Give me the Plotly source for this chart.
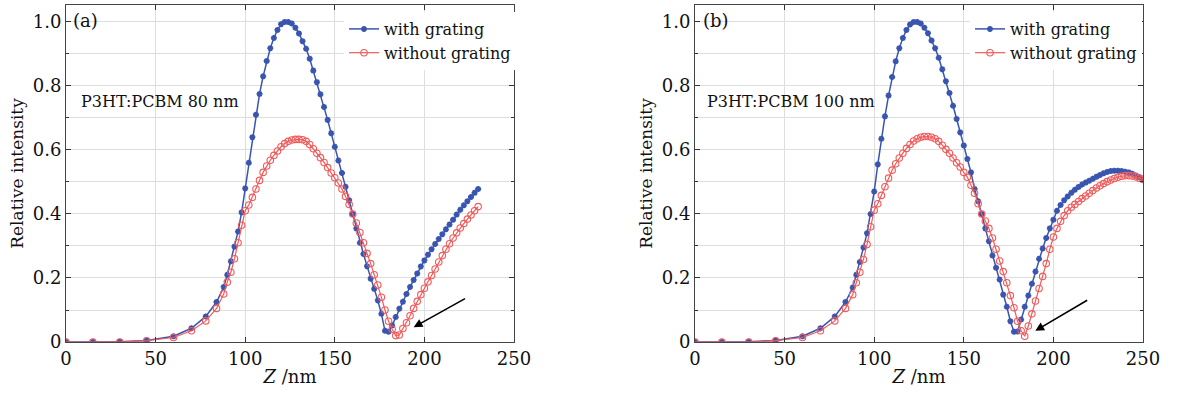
import plotly.graph_objects as go

# ---------------- data ----------------
Z_A = [0, 15, 30, 45, 60, 70, 78, 84, 88, 90,
       92, 94, 96, 98, 100, 102, 104, 106, 108, 110,
       112, 114, 116, 118, 120, 122, 124, 126, 128, 130,
       132, 134, 136, 138, 140, 142, 144, 146, 148, 150,
       152, 154, 156, 158, 160, 162, 164, 166, 168, 170,
       172, 174, 176, 178, 180, 182, 184, 186, 188, 190,
       192, 194, 196, 198, 200, 202, 204, 206, 208, 210,
       212, 214, 216, 218, 220, 222, 224, 226, 228, 230]

with_A = [0, 0, 0.001, 0.005, 0.018, 0.043, 0.08, 0.125, 0.172, 0.21,
          0.252, 0.298, 0.345, 0.405, 0.48, 0.56, 0.64, 0.71, 0.775, 0.83,
          0.878, 0.918, 0.95, 0.975, 0.993, 1.0, 1.0, 0.995, 0.982, 0.964,
          0.94, 0.916, 0.885, 0.848, 0.812, 0.774, 0.734, 0.694, 0.652, 0.61,
          0.567, 0.528, 0.485, 0.443, 0.4, 0.355, 0.31, 0.275, 0.237, 0.198,
          0.166, 0.13, 0.088, 0.035, 0.032, 0.052, 0.078, 0.104, 0.126, 0.15,
          0.172, 0.194, 0.214, 0.236, 0.255, 0.273, 0.29, 0.306, 0.322, 0.337,
          0.352, 0.367, 0.382, 0.398, 0.413, 0.427, 0.44, 0.453, 0.466, 0.478]

without_A = [0, 0, 0, 0.004, 0.014, 0.035, 0.066, 0.105, 0.15, 0.187,
             0.218, 0.26, 0.31, 0.365, 0.41, 0.428, 0.452, 0.478, 0.505, 0.53,
             0.55, 0.568, 0.583, 0.597, 0.61, 0.62, 0.627, 0.631, 0.633, 0.633,
             0.632, 0.627, 0.617, 0.604, 0.59, 0.576, 0.561, 0.545, 0.528, 0.513,
             0.497, 0.478, 0.455, 0.43, 0.4, 0.372, 0.342, 0.31, 0.277, 0.245,
             0.21, 0.178, 0.14, 0.1, 0.065, 0.04, 0.02, 0.022, 0.042, 0.06,
             0.082, 0.105, 0.127, 0.148, 0.168, 0.188, 0.208, 0.228, 0.25, 0.27,
             0.29, 0.307, 0.325, 0.341, 0.356, 0.37, 0.384, 0.397, 0.41, 0.423]

Z_B = [0, 15, 30, 45, 60, 70, 78, 84, 88, 90,
       92, 94, 96, 98, 100, 102, 104, 106, 108, 110,
       112, 114, 116, 118, 120, 122, 124, 126, 128, 130,
       132, 134, 136, 138, 140, 142, 144, 146, 148, 150,
       152, 154, 156, 158, 160, 162, 164, 166, 168, 170,
       172, 174, 176, 178, 180, 182, 184, 186, 188, 190,
       192, 194, 196, 198, 200, 202, 204, 206, 208, 210,
       212, 214, 216, 218, 220, 222, 224, 226, 228, 230,
       232, 234, 236, 238, 240, 242, 244, 246, 248, 250]

with_B = [0, 0, 0.001, 0.005, 0.018, 0.043, 0.08, 0.125, 0.17, 0.21,
          0.25, 0.295, 0.34, 0.4, 0.47, 0.555, 0.635, 0.705, 0.77, 0.828,
          0.877, 0.918, 0.95, 0.975, 0.992, 1.0, 1.0, 0.995, 0.982, 0.965,
          0.942, 0.918, 0.888, 0.852, 0.815, 0.778, 0.738, 0.697, 0.655, 0.614,
          0.572, 0.53, 0.478, 0.44, 0.4, 0.355, 0.315, 0.27, 0.232, 0.195,
          0.148, 0.11, 0.065, 0.032, 0.033, 0.07, 0.11, 0.145, 0.182, 0.22,
          0.26, 0.292, 0.325, 0.355, 0.382, 0.41, 0.428, 0.443, 0.455, 0.466,
          0.476, 0.484, 0.492, 0.498, 0.504, 0.51, 0.516, 0.522, 0.527, 0.531,
          0.534, 0.535, 0.535, 0.534, 0.532, 0.53, 0.526, 0.52, 0.515, 0.51]

without_B = [0, 0, 0, 0.004, 0.014, 0.035, 0.066, 0.105, 0.148, 0.185,
             0.218, 0.258, 0.305, 0.36, 0.412, 0.432, 0.458, 0.485, 0.512, 0.537,
             0.557, 0.575, 0.59, 0.605, 0.617, 0.628, 0.635, 0.64, 0.642, 0.642,
             0.64, 0.635, 0.627, 0.615, 0.602, 0.59, 0.575, 0.56, 0.547, 0.53,
             0.515, 0.49, 0.465, 0.432, 0.4, 0.378, 0.355, 0.325, 0.29, 0.253,
             0.22, 0.185, 0.145, 0.107, 0.065, 0.035, 0.018, 0.05, 0.088, 0.128,
             0.167, 0.205, 0.245, 0.29, 0.328, 0.355, 0.377, 0.395, 0.41, 0.421,
             0.43, 0.439, 0.448, 0.456, 0.465, 0.473, 0.481, 0.488, 0.495, 0.501,
             0.506, 0.511, 0.515, 0.518, 0.52, 0.52, 0.519, 0.516, 0.512, 0.508]

y_tickvals = [0, 0.2, 0.4, 0.6, 0.8, 1.0]
y_ticktext = ["0", "0.2", "0.4", "0.6", "0.8", "1.0"]
x_tickvals = [0, 50, 100, 150, 200, 250]
series_names = ["with grating", "without grating"]
panel_labels = ["(a)", "(b)"]
sample_labels = ["P3HT:PCBM 80 nm", "P3HT:PCBM 100 nm"]
# arrow (tail Z, tail I, head Z, head I) for each panel
arrow_A = [223.5, 0.138, 194.0, 0.046]
arrow_B = [219.7, 0.133, 189.9, 0.035]

# ---------------- style ----------------
BLUE = "#3a55b0"
RED = "#f05a5a"
FONT = "DejaVu Serif"

fig = go.Figure()

def add_pair(z, w, wo, xa, ya, legend):
    fig.add_trace(go.Scatter(
        x=z, y=w, mode="lines+markers", name=series_names[0],
        xaxis=xa, yaxis=ya, legend=legend,
        line=dict(color=BLUE, width=1.5),
        marker=dict(symbol="asterisk-open", size=5, color=BLUE,
                    line=dict(color=BLUE, width=1.8)),
    ))
    fig.add_trace(go.Scatter(
        x=z, y=wo, mode="lines+markers", name=series_names[1],
        xaxis=xa, yaxis=ya, legend=legend,
        line=dict(color=RED, width=1.2),
        marker=dict(symbol="circle-open", size=6.5, color=RED,
                    line=dict(color=RED, width=1.1)),
    ))

add_pair(Z_A, with_A, without_A, "x", "y", "legend")
add_pair(Z_B, with_B, without_B, "x2", "y2", "legend2")

W, H = 1178, 397
y_dom = [1 - 342 / H, 1 - 5 / H]

def xaxis(dom, anchor):
    return dict(domain=dom, anchor=anchor, range=[0, 250], automargin=False,
                tickvals=x_tickvals, ticks="inside", ticklen=5,
                tickcolor="#333", showline=True, linecolor="#444", linewidth=1,
                mirror="ticks", showgrid=True, gridcolor="#dedede", gridwidth=1,
                zeroline=False, tickfont=dict(family=FONT, size=18, color="#111"),
                title=dict(text="<i>Z</i> /nm", font=dict(family=FONT, size=18, color="#111"),
                           standoff=2))

def yaxis(anchor):
    return dict(domain=y_dom, anchor=anchor, range=[0, 1.053], automargin=False,
                tickvals=y_tickvals, ticktext=y_ticktext, ticks="inside", ticklen=5,
                tickcolor="#333", showline=True, linecolor="#444", linewidth=1,
                mirror="ticks", showgrid=True, gridcolor="#dedede", gridwidth=1,
                zeroline=False, tickfont=dict(family=FONT, size=18, color="#111"),
                minor=dict(dtick=0.1, tick0=0, ticks="inside", ticklen=3,
                           tickcolor="#333", showgrid=True, gridcolor="#dedede"),
                title=dict(text="Relative intensity", font=dict(family=FONT, size=17, color="#111"),
                           standoff=4))

legend_common = dict(font=dict(family=FONT, size=16, color="#111"), bgcolor="white",
                     borderwidth=0, tracegroupgap=0, itemwidth=30,
                     xanchor="left", yanchor="top")

anns = []
for (xr, yr, lab, samp, arr) in [("x", "y", panel_labels[0], sample_labels[0], arrow_A),
                                  ("x2", "y2", panel_labels[1], sample_labels[1], arrow_B)]:
    anns.append(dict(x=3 if xr == "x" else 3.5, y=1.006, xref=xr, yref=yr, text=lab,
                     showarrow=False, xanchor="left", yanchor="middle",
                     font=dict(family=FONT, size=18, color="#111")))
    anns.append(dict(x=7 if xr == "x" else 5.5, y=0.752, xref=xr, yref=yr, text=samp,
                     showarrow=False, xanchor="left", yanchor="middle",
                     font=dict(family=FONT, size=16, color="#111")))
    anns.append(dict(x=arr[2], y=arr[3], ax=arr[0], ay=arr[1], xref=xr, yref=yr,
                     axref=xr, ayref=yr, text="", showarrow=True, arrowhead=2,
                     arrowsize=1.1, arrowwidth=1.6, arrowcolor="black"))

fig.update_layout(
    width=W, height=H, margin=dict(l=0, r=0, t=0, b=0, autoexpand=False),
    paper_bgcolor="white", plot_bgcolor="white",
    showlegend=True,
    xaxis=xaxis([66 / W, 514 / W], "y"),
    yaxis=yaxis("x"),
    xaxis2=xaxis([695 / W, 1143 / W], "y2"),
    yaxis2=yaxis("x2"),
    legend=dict(x=344 / W, y=1 - 12 / H, **legend_common),
    legend2=dict(x=970 / W, y=1 - 12 / H, **legend_common),
    annotations=anns,
)

fig.write_html("out.html", config={"displayModeBar": False},
               post_script="document.body.style.margin='0px';document.body.style.overflow='hidden';")
